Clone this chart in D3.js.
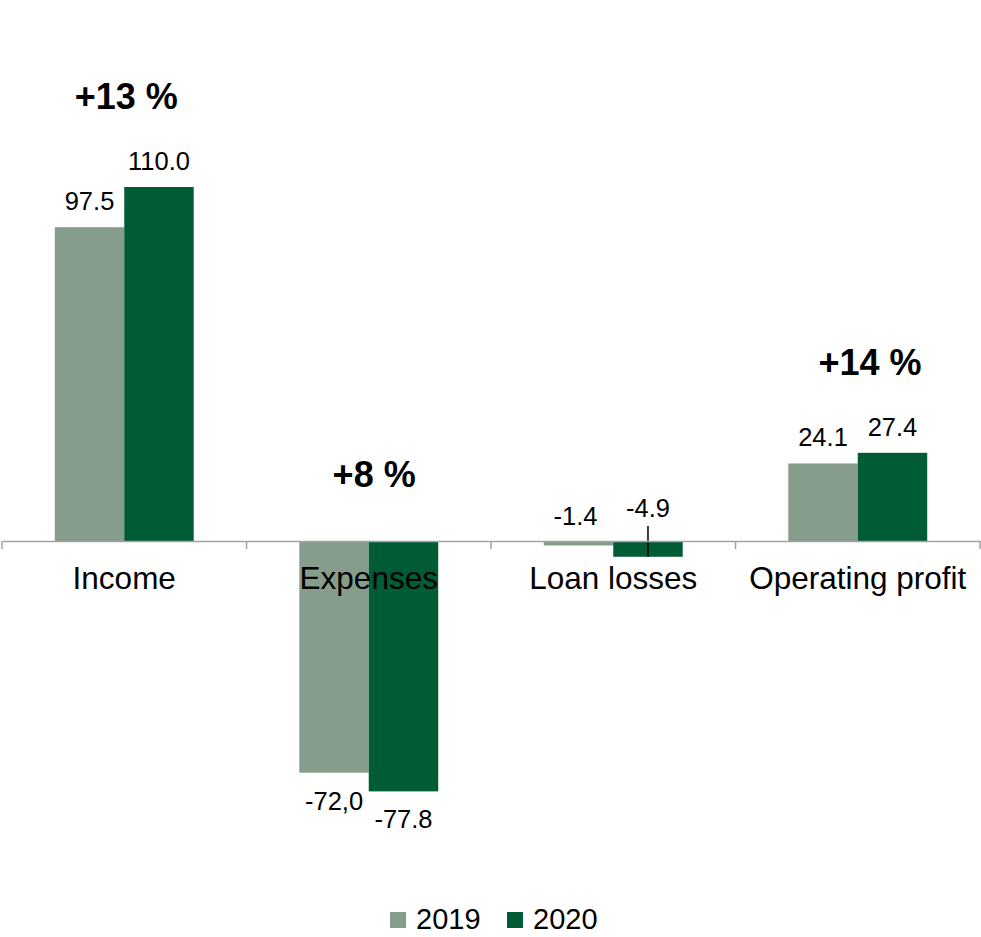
<!DOCTYPE html>
<html>
<head>
<meta charset="utf-8">
<script src="https://cdn.jsdelivr.net/npm/d3@7"></script>
<style>
  html, body { margin: 0; padding: 0; background: #ffffff; }
  svg { display: block; font-family: Arial, "Liberation Sans", sans-serif; }
</style>
</head>
<body>
<svg id="chart" width="981" height="937"></svg>
<script>
// Categories and series
const categories = ["Income", "Expenses", "Loan losses", "Operating profit"];
const seriesNames = ["2019", "2020"];
const values2019 = [97.5, -72.0, -1.4, 24.1];
const values2020 = [110.0, -77.8, -4.9, 27.4];
const labels2019 = ["97.5", "-72,0", "-1.4", "24.1"];
const labels2020 = ["110.0", "-77.8", "-4.9", "27.4"];
const changeLabels = ["+13 %", "+8 %", "", "+14 %"];
const seriesColors = ["#879D8B", "#005C35"];

const svg = d3.select("#chart");

// Scales
const x = d3.scaleBand().domain(categories).range([2, 980]).paddingInner(0).paddingOuter(0);
const xs = d3.scaleBand().domain(seriesNames).range([0, x.bandwidth()]).paddingInner(0).paddingOuter(0.76);
const y = d3.scaleLinear().domain([0, 110]).range([541, 187]);

const rows = categories.map((c, i) => ({
  category: c,
  index: i,
  change: changeLabels[i],
  bars: [
    { series: seriesNames[0], value: values2019[i], label: labels2019[i] },
    { series: seriesNames[1], value: values2020[i], label: labels2020[i] }
  ]
}));

const color = d3.scaleOrdinal().domain(seriesNames).range(seriesColors);

// Bars
const groups = svg.append("g").selectAll("g")
  .data(rows).join("g")
  .attr("transform", d => `translate(${x(d.category)},0)`);

groups.selectAll("rect")
  .data(d => d.bars).join("rect")
  .attr("x", d => xs(d.series))
  .attr("width", xs.bandwidth())
  .attr("y", d => y(Math.max(0, d.value)))
  .attr("height", d => Math.abs(y(d.value) - y(0)))
  .attr("fill", d => color(d.series));

// Category axis along zero
const axis = d3.axisBottom(x).tickSize(0).tickFormat("");
const axisG = svg.append("g").attr("transform", `translate(0,${y(0)})`).call(axis);
axisG.select(".domain").attr("stroke", "#a3a3a3").attr("stroke-width", 1.5);
// Boundary tick marks between categories
const boundaries = categories.map(c => x(c)).concat([x.range()[1]]);
axisG.selectAll("line.boundary")
  .data(boundaries).join("line")
  .attr("class", "boundary")
  .attr("x1", d => d).attr("x2", d => d)
  .attr("y1", 0).attr("y2", 8)
  .attr("stroke", "#a3a3a3").attr("stroke-width", 1.5);

// Category labels
svg.append("g").selectAll("text")
  .data(categories).join("text")
  .attr("x", d => x(d) + x.bandwidth() / 2)
  .attr("y", 589)
  .attr("text-anchor", "middle")
  .attr("font-size", 31.5)
  .attr("fill", "#000")
  .text(d => d);

// Value labels
const shortBar = 30;
groups.each(function(row) {
  const g = d3.select(this);
  row.bars.forEach((b, j) => {
    const cx = xs(b.series) + xs.bandwidth() / 2;
    const len = Math.abs(y(b.value) - y(0));
    let ty;
    if (b.value >= 0) {
      ty = y(b.value) - 17;
    } else if (len > shortBar) {
      ty = y(b.value) + 37;
    } else {
      // short negative bars: labels sit above the axis, staggered, with a leader line
      ty = y(0) - (j === 0 ? 16 : 24);
      if (j === 1) {
        g.append("line")
          .attr("x1", cx).attr("x2", cx)
          .attr("y1", ty + 9).attr("y2", y(b.value))
          .attr("stroke", "#000").attr("stroke-width", 1.5);
      }
    }
    g.append("text")
      .attr("x", cx - (len <= shortBar && b.value < 0 && j === 0 ? 3 : 0))
      .attr("y", ty)
      .attr("text-anchor", "middle")
      .attr("font-size", 25.5)
      .attr("fill", "#000")
      .text(b.label);
  });
});

// Year-on-year change labels
svg.append("g").selectAll("text")
  .data(rows.filter(r => r.change)).join("text")
  .attr("x", d => x(d.category) + x.bandwidth() / 2 + 2 + 3.4 * d.index)
  .attr("y", d => {
    const top = d3.max(d.bars, b => b.value);
    return top > 0 ? y(top) - 78 : y(0) - 54;
  })
  .attr("text-anchor", "middle")
  .attr("font-size", 36)
  .attr("font-weight", "bold")
  .attr("fill", "#000")
  .text(d => d.change);

// Legend
const legend = svg.append("g").attr("transform", "translate(390,912)");
const legendX = d3.scaleOrdinal().domain(seriesNames).range([0, 117]);
const items = legend.selectAll("g").data(seriesNames).join("g")
  .attr("transform", d => `translate(${legendX(d)},0)`);
items.append("rect").attr("width", 16).attr("height", 16).attr("fill", d => color(d));
items.append("text")
  .attr("x", 26).attr("y", 17)
  .attr("font-size", 29)
  .attr("fill", "#000")
  .text(d => d);
</script>
</body>
</html>
